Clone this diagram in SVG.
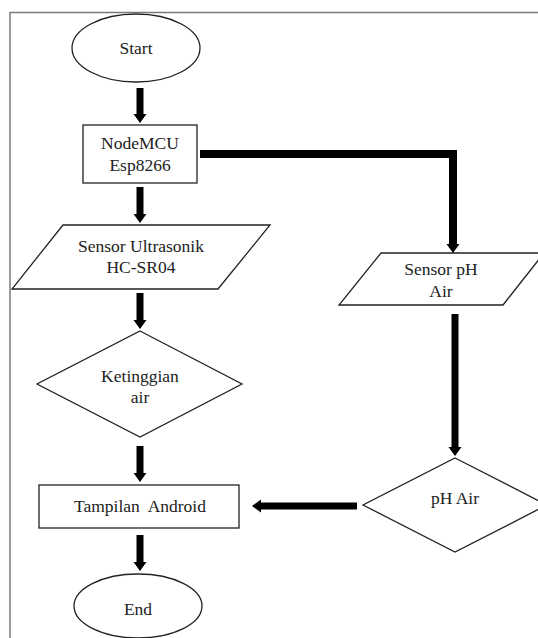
<svg xmlns="http://www.w3.org/2000/svg" width="538" height="638" viewBox="0 0 538 638">
<style>
.shape{fill:#fff;stroke:#222;stroke-width:1.3}
.lbl{font-family:"Liberation Serif","Times New Roman",serif;font-size:17.5px;fill:#222;text-anchor:middle}
.conn{fill:none;stroke:#000;stroke-width:7;stroke-linejoin:miter}
.frame{stroke:#7a7a7a;stroke-width:1.5;fill:none}
</style>
<defs>
<marker id="ah" markerUnits="userSpaceOnUse" markerWidth="10" markerHeight="14" refX="0" refY="6.5" orient="auto" overflow="visible">
<path d="M0,0 L9,6.5 L0,13 z" fill="#000"/>
</marker>
</defs>
<rect width="538" height="638" fill="#fff"/>
<g id="frame">
<line class="frame" x1="10" y1="12.5" x2="538" y2="12.5"/>
<line class="frame" x1="10" y1="12" x2="10" y2="638"/>
</g>
<g id="start">
<ellipse class="shape" cx="136" cy="48" rx="64" ry="34"/>
<text class="lbl" x="136" y="54">Start</text>
</g>
<g id="nodemcu">
<rect class="shape" x="83" y="125" width="114" height="58"/>
<text class="lbl" x="140" y="149">NodeMCU</text>
<text class="lbl" x="140" y="171">Esp8266</text>
</g>
<g id="ultrasonik">
<polygon class="shape" points="63,225 270,225 218,289 12,289"/>
<text class="lbl" x="141" y="252">Sensor Ultrasonik</text>
<text class="lbl" x="141" y="273">HC-SR04</text>
</g>
<g id="ketinggian">
<polygon class="shape" points="140,331 242,384 140,437 37,384"/>
<text class="lbl" x="140" y="382">Ketinggian</text>
<text class="lbl" x="140" y="403">air</text>
</g>
<g id="tampilan">
<rect class="shape" x="39" y="485" width="200" height="43"/>
<text class="lbl" x="140" y="512" xml:space="preserve">Tampilan  Android</text>
</g>
<g id="end">
<ellipse class="shape" cx="138" cy="606" rx="64" ry="32"/>
<text class="lbl" x="138" y="615">End</text>
</g>
<g id="sensorph">
<polygon class="shape" points="381,253 544,253 503,305 339,305"/>
<text class="lbl" x="441" y="275">Sensor pH</text>
<text class="lbl" x="441" y="297">Air</text>
</g>
<g id="phair">
<polygon class="shape" points="455,458 547,505 455,552 363,505"/>
<text class="lbl" x="455" y="504">pH Air</text>
</g>
<g id="connectors">
<line class="conn" x1="140" y1="88" x2="140" y2="114" marker-end="url(#ah)"/>
<line class="conn" x1="140" y1="187" x2="140" y2="214" marker-end="url(#ah)"/>
<line class="conn" x1="140" y1="293" x2="140" y2="320" marker-end="url(#ah)"/>
<line class="conn" x1="140" y1="446" x2="140" y2="473" marker-end="url(#ah)"/>
<line class="conn" x1="140" y1="535" x2="140" y2="562" marker-end="url(#ah)"/>
<polyline class="conn" style="stroke-width:8" points="200,154 453,154 453,244" marker-end="url(#ah)"/>
<line class="conn" x1="455" y1="314" x2="455" y2="447" marker-end="url(#ah)"/>
<line class="conn" x1="357" y1="506" x2="261" y2="506" marker-end="url(#ah)"/>
</g>
</svg>
